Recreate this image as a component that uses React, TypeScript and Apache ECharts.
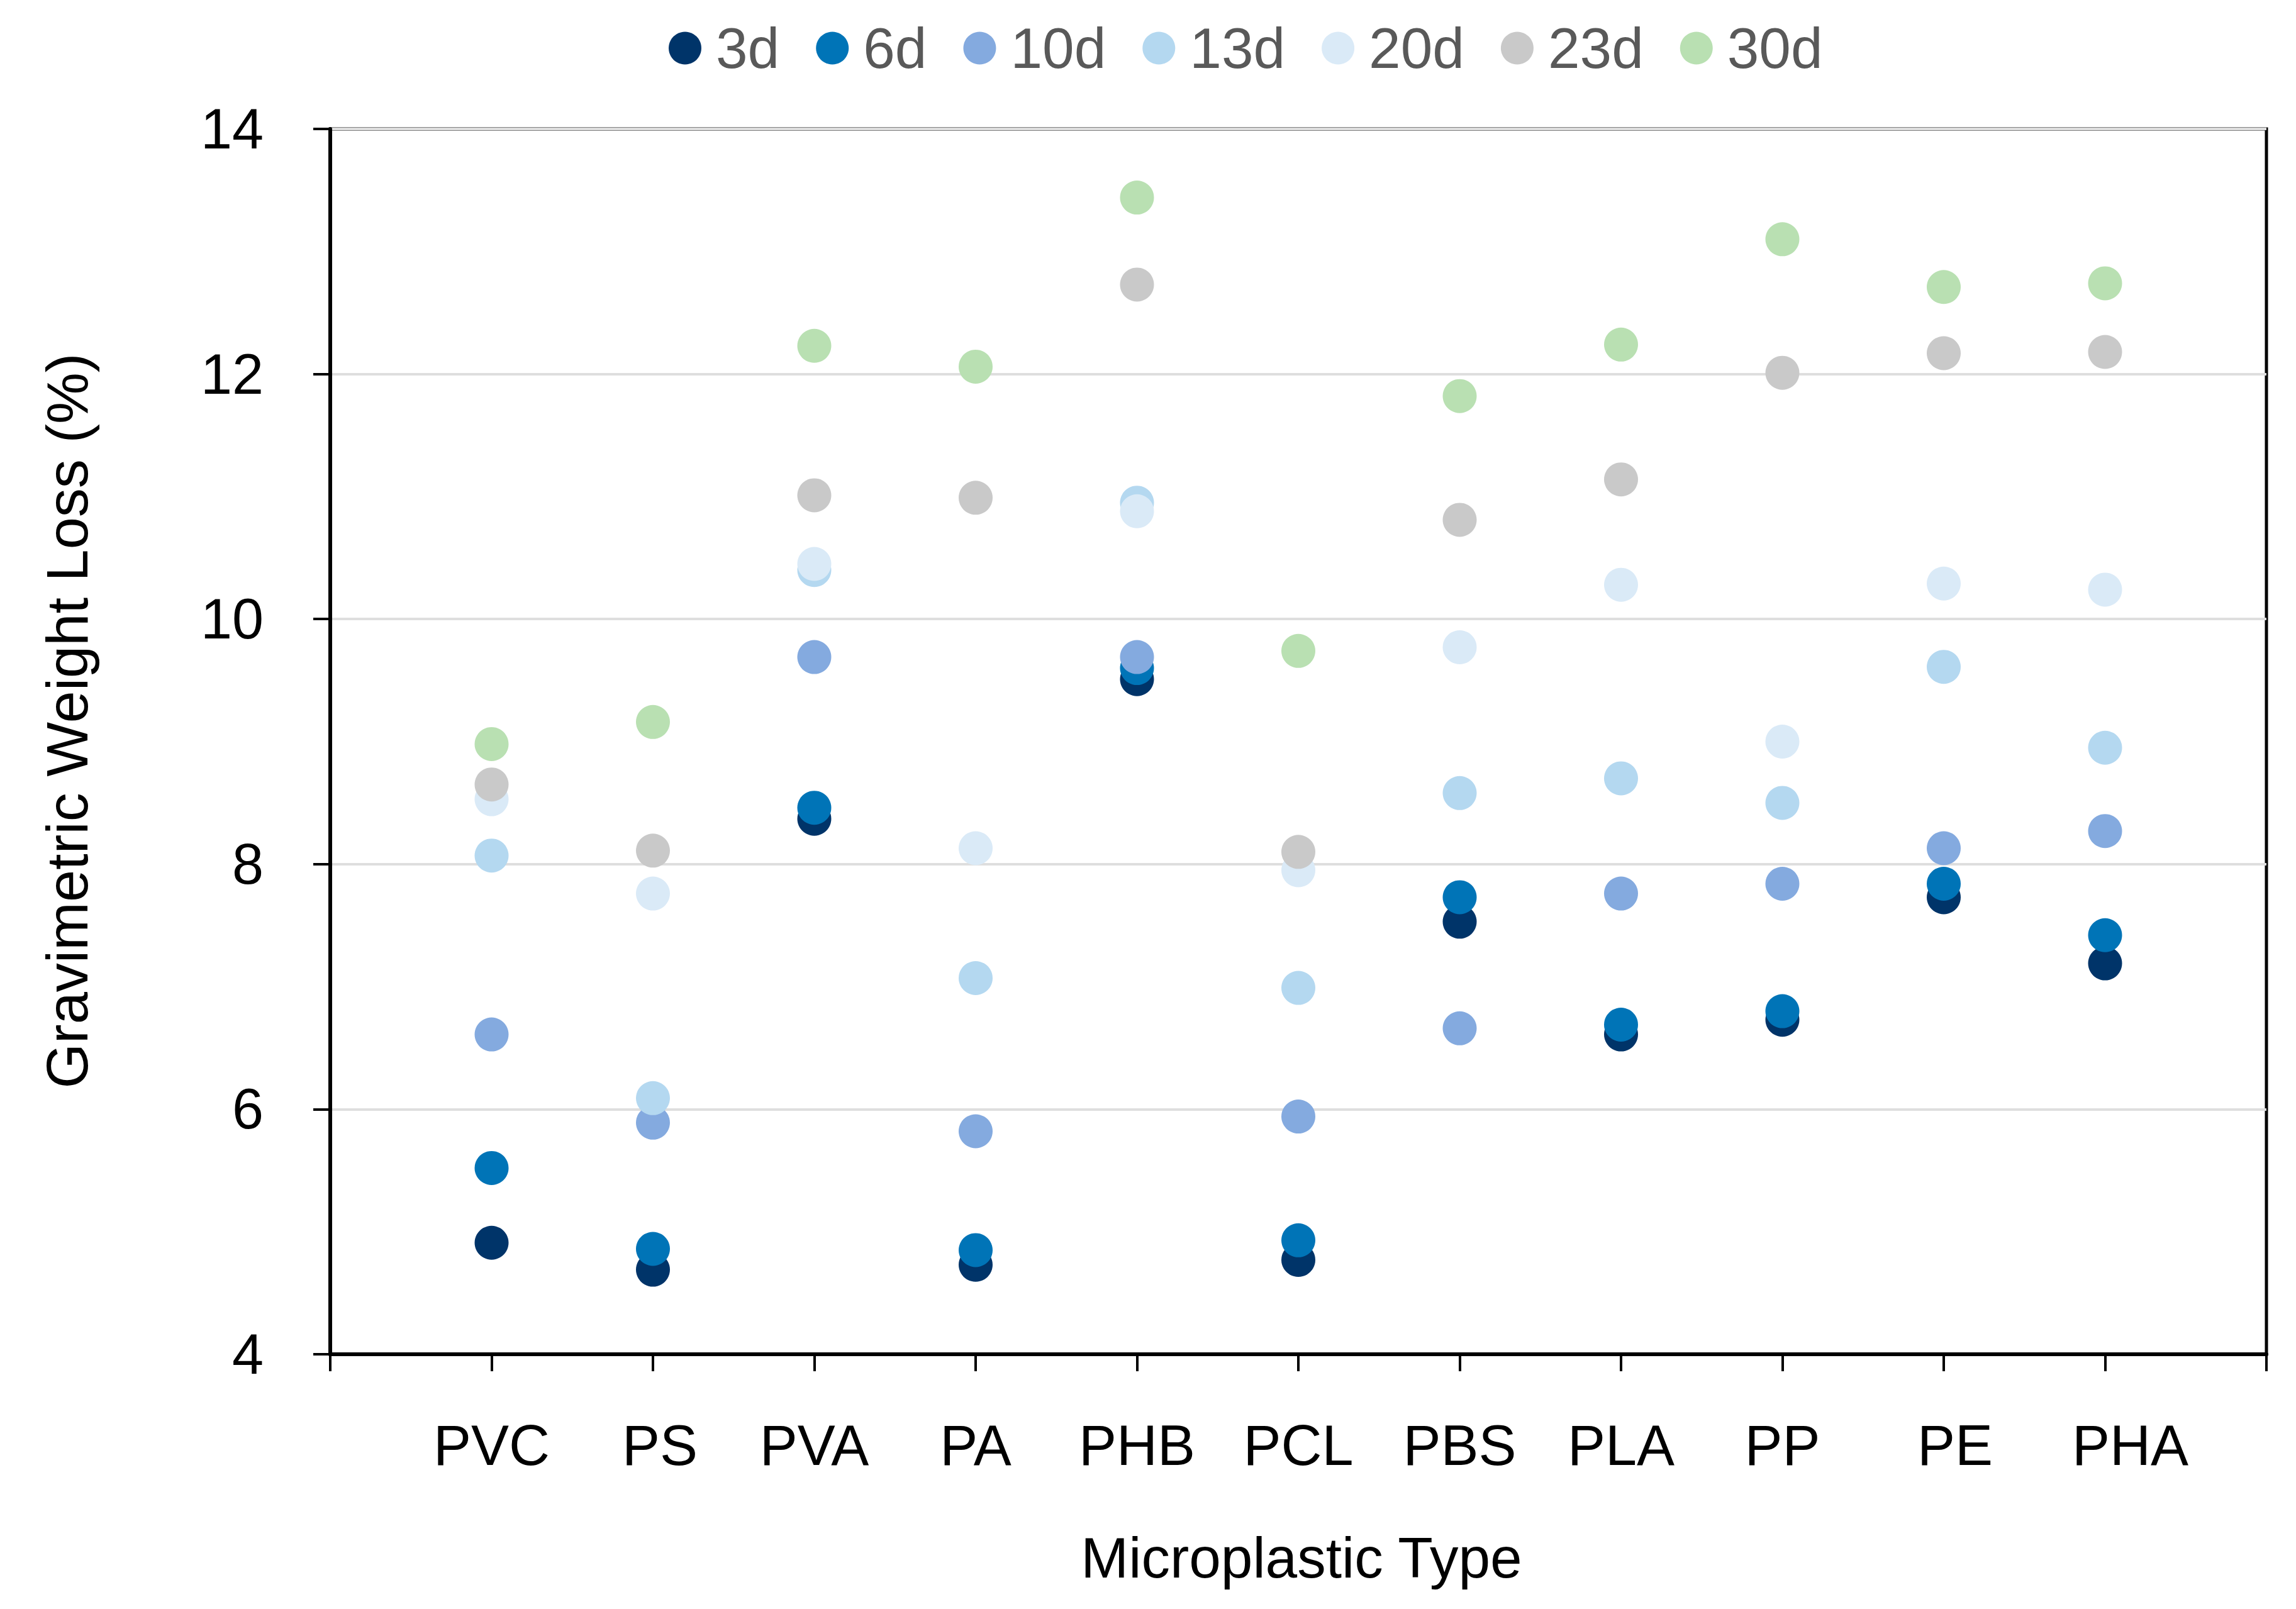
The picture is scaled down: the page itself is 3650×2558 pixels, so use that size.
import React, { useEffect, useRef } from "react";
import * as echarts from "echarts";

const categories = ["PVC", "PS", "PVA", "PA", "PHB", "PCL", "PBS", "PLA", "PP", "PE", "PHA"];
const seriesNames = ["3d", "6d", "10d", "13d", "20d", "23d", "30d"];
const seriesColors = ["#003469", "#0074B7", "#84AADF", "#B4D8F0", "#DAEAF7", "#C9C9C9", "#B9E0B2"];

const d3 = [4.91, 4.69, 8.37, 4.73, 9.51, 4.77, 7.53, 6.61, 6.73, 7.73, 7.19];
const d6 = [5.52, 4.86, 8.46, 4.85, 9.6, 4.93, 7.73, 6.69, 6.8, 7.84, 7.42];
const d10 = [6.61, 5.89, 9.69, 5.82, 9.69, 5.94, 6.66, 7.76, 7.84, 8.13, 8.27];
const d13 = [8.07, 6.09, 10.4, 7.07, 10.95, 6.99, 8.58, 8.7, 8.5, 9.61, 8.95];
const d20 = [8.53, 7.76, 10.45, 8.13, 10.88, 7.95, 9.77, 10.28, 9.0, 10.29, 10.24];
const d23 = [8.65, 8.11, 11.01, 10.99, 12.73, 8.1, 10.81, 11.14, 12.01, 12.17, 12.18];
const d30 = [8.98, 9.16, 12.23, 12.06, 13.44, 9.74, 11.82, 12.24, 13.1, 12.71, 12.74];
const seriesValues = [d3, d6, d10, d13, d20, d23, d30];

const yTicks = { min: 4, max: 14, interval: 2 };

export default function App() {
  const ref = useRef<HTMLDivElement>(null);
  useEffect(() => {
    if (!ref.current) return;
    const chart = echarts.init(ref.current, undefined, { renderer: "svg" });
    const font = "'Liberation Sans', Arial, sans-serif";
    const labelStyle = { fontFamily: font, fontSize: 90, color: "#000000" };
    chart.setOption({
      animation: false,
      backgroundColor: "#ffffff",
      textStyle: { fontFamily: font },
      legend: {
        data: seriesNames,
        top: 26,
        left: 1058,
        icon: "circle",
        itemWidth: 52,
        itemHeight: 52,
        itemGap: 58,
        textStyle: {
          fontFamily: font,
          fontSize: 91,
          color: "#595959",
          lineHeight: 91,
          padding: [0, 0, 0, 18],
        },
      },
      grid: {
        left: 525,
        right: 47,
        top: 205,
        bottom: 405,
        show: true,
        borderColor: "#000000",
        borderWidth: 5,
        containLabel: false,
      },
      xAxis: {
        type: "value",
        min: 0,
        max: 12,
        interval: 1,
        name: "Microplastic Type",
        nameLocation: "middle",
        nameGap: 278,
        nameTextStyle: { fontFamily: font, fontSize: 91, color: "#000000", padding: [0, 0, 0, 10] },
        axisLine: { show: true, onZero: false, lineStyle: { color: "#000000", width: 6 } },
        axisTick: { show: true, inside: false, length: 27, lineStyle: { color: "#000000", width: 4 } },
        axisLabel: {
          show: true,
          margin: 100,
          ...labelStyle,
          showMinLabel: true,
          showMaxLabel: true,
          formatter: (v: number) => {
            const name = categories[Math.round(v) - 1] ?? "";
            if (name === "PHA") return "{pha|" + name + "}";
            if (name === "PE") return "{pe|" + name + "}";
            if (name === "PS") return "{ps|" + name + "}";
            return name;
          },
          rich: {
            pha: { ...labelStyle, padding: [0, 0, 0, 80] },
            pe: { ...labelStyle, padding: [0, 0, 0, 36] },
            ps: { ...labelStyle, padding: [0, 0, 0, 22] },
          },
        },
        splitLine: { show: false },
      },
      yAxis: {
        type: "value",
        min: yTicks.min,
        max: yTicks.max,
        interval: yTicks.interval,
        name: "Gravimetric Weight Loss (%)",
        nameLocation: "middle",
        nameGap: 372,
        nameTextStyle: { fontFamily: font, fontSize: 92, color: "#000000", padding: [0, 0, 0, 66] },
        axisLine: { show: true, lineStyle: { color: "#000000", width: 6 } },
        axisTick: { show: true, inside: false, length: 27, lineStyle: { color: "#000000", width: 4 } },
        axisLabel: { margin: 106, ...labelStyle },
        splitLine: { show: true, lineStyle: { color: "#DEDEDE", width: 4 } },
      },
      series: seriesNames.map((name, si) => ({
        name,
        type: "scatter",
        symbol: "circle",
        symbolSize: 54,
        itemStyle: { color: seriesColors[si], opacity: 1 },
        emphasis: { disabled: true },
        data: seriesValues[si].map((v, ci) => [ci + 1, v]),
      })),
    });
    return () => chart.dispose();
  }, []);
  return (
    <div
      ref={ref}
      style={{ position: "absolute", left: 0, top: 0, width: 3650, height: 2558 }}
    />
  );
}
